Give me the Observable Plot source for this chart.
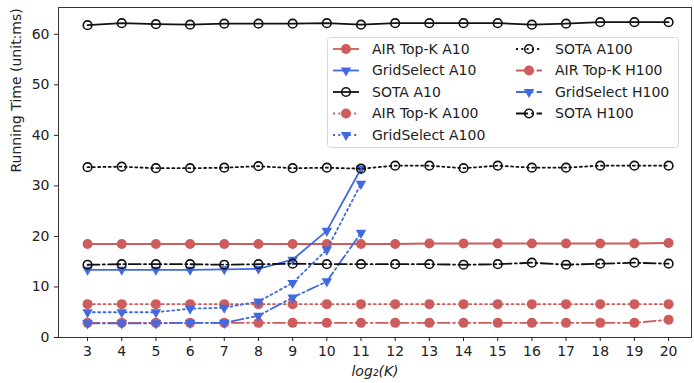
<!DOCTYPE html>
<html><head><meta charset="utf-8">
<script src="https://cdn.jsdelivr.net/npm/d3@7"></script>
<script src="https://cdn.jsdelivr.net/npm/@observablehq/plot@0.6"></script>
<style>body{margin:0;background:#fff} svg{display:block}</style>
</head><body><div id="chart"></div>
<script>
// ---- data ----
const kValues = [3,4,5,6,7,8,9,10,11,12,13,14,15,16,17,18,19,20];
const gridK   = [3,4,5,6,7,8,9,10,11];
const yTicks  = [0,10,20,30,40,50,60];

const airTopKA10  = [18.5,18.5,18.5,18.5,18.5,18.5,18.5,18.5,18.5,18.5,18.6,18.6,18.6,18.6,18.6,18.6,18.6,18.7];
const gridSelA10  = [13.4,13.4,13.4,13.4,13.5,13.6,15.4,21.1,33.4];
const sotaA10     = [61.8,62.2,62.0,61.9,62.1,62.1,62.1,62.2,61.9,62.2,62.2,62.2,62.2,61.9,62.1,62.4,62.4,62.4];
const airTopKA100 = [6.6,6.6,6.6,6.6,6.6,6.6,6.6,6.6,6.6,6.6,6.6,6.6,6.6,6.6,6.6,6.6,6.6,6.6];
const gridSelA100 = [5.0,5.0,5.0,5.7,5.9,7.1,10.8,17.4,30.4];
const sotaA100    = [33.7,33.8,33.5,33.5,33.6,33.9,33.5,33.6,33.4,34.0,34.0,33.5,34.0,33.6,33.6,34.0,34.0,34.0];
const airTopKH100 = [2.9,2.9,2.9,2.9,2.9,2.9,2.9,2.9,2.9,2.9,2.9,2.9,2.9,2.9,2.9,2.9,2.9,3.5];
const gridSelH100 = [2.8,2.8,2.8,2.9,2.9,4.3,7.9,11.1,20.7];
const sotaH100    = [14.4,14.5,14.5,14.5,14.4,14.5,14.6,14.5,14.5,14.5,14.5,14.4,14.5,14.8,14.4,14.6,14.8,14.6];

const seriesNames = ["AIR Top-K A10","GridSelect A10","SOTA A10","AIR Top-K A100","GridSelect A100","SOTA A100","AIR Top-K H100","GridSelect H100","SOTA H100"];

// ---- styles ----
const RED = "#cd5c5c", BLUE = "#4169e1", BLACK = "#111";
const SOLID = null, DOT = "2,3.3", DASHDOT = "12,3.3,2,3.3";
const FS = 14;
const styles = {
  air:  {color: RED,   kind: "fill"},
  grid: {color: BLUE,  kind: "tri"},
  sota: {color: BLACK, kind: "open"}
};
const seriesDefs = [
  [airTopKA10, kValues, "air", SOLID], [gridSelA10, gridK, "grid", SOLID], [sotaA10, kValues, "sota", SOLID],
  [airTopKA100, kValues, "air", DOT],  [gridSelA100, gridK, "grid", DOT],  [sotaA100, kValues, "sota", DOT],
  [airTopKH100, kValues, "air", DASHDOT], [gridSelH100, gridK, "grid", DASHDOT], [sotaH100, kValues, "sota", DASHDOT]
].map(([vals, ks, type, dash], i) => ({
  name: seriesNames[i], rows: vals.map((v, j) => ({k: ks[j], v})), ...styles[type], dash
}));

function dotOpts(s) {
  if (s.kind === "fill") return {x: "k", y: "v", r: 5, fill: s.color, stroke: "none"};
  if (s.kind === "tri") return {x: "k", y: "v", symbol: "triangle", r: 3.9, fill: s.color, stroke: "none", rotate: 180};
  return {x: "k", y: "v", r: 4.3, fill: "none", stroke: s.color, strokeWidth: 1.6};
}

const marks = [];
for (const s of seriesDefs) {
  marks.push(Plot.line(s.rows, {x: "k", y: "v", stroke: s.color, strokeWidth: 1.8, strokeDasharray: s.dash}));
  marks.push(Plot.dot(s.rows, dotOpts(s)));
}

const plot = Plot.plot({
  width: 694, height: 383,
  marginLeft: 58, marginRight: 3, marginTop: 7, marginBottom: 46,
  style: {fontFamily: "DejaVu Sans, sans-serif", fontSize: FS + "px", color: "#222", background: "#fff"},
  x: {domain: [2.15, 20.67]},
  y: {domain: [0, 65.3]},
  marks: [
    ...marks,
    Plot.frame({stroke: "#333", strokeWidth: 1}),
    Plot.axisY({ticks: yTicks, tickSize: 4, tickPadding: 5, label: null, fontSize: FS}),
    Plot.axisX({ticks: kValues, tickSize: 4, tickPadding: 5, label: null, tickFormat: d => String(d), fontSize: FS}),
    Plot.text(["Running Time (unit:ms)"], {frameAnchor: "left", dx: -42, rotate: -90, text: d => d, fontSize: FS, fill: "#222"}),
    Plot.text(["log\u2082(K)"], {frameAnchor: "bottom", dy: 38, text: d => d, fontSize: FS, fontStyle: "italic", fill: "#222"})
  ]
});

// ---- legend (drawn into the same SVG) ----
const svg = d3.select(plot);
const lg = svg.append("g").attr("font-family", "DejaVu Sans, sans-serif").attr("font-size", FS).attr("text-anchor", "start");
lg.append("rect").attr("x", 327.5).attr("y", 37.5).attr("width", 351).attr("height", 110)
  .attr("rx", 3).attr("fill", "white").attr("fill-opacity", 0.85).attr("stroke", "#d8d8d8");
const rowY = [49, 70.5, 92, 113.5, 135];
const cols = [{x0: 333, x1: 359, tx: 372}, {x0: 516, x1: 542, tx: 555}];
seriesDefs.forEach((s, i) => {
  const c = cols[i < 5 ? 0 : 1], y = rowY[i < 5 ? i : i - 5];
  lg.append("line").attr("x1", c.x0).attr("x2", c.x1).attr("y1", y).attr("y2", y)
    .attr("stroke", s.color).attr("stroke-width", 1.8).attr("stroke-dasharray", s.dash);
  const cx = (c.x0 + c.x1) / 2;
  if (s.kind === "fill") lg.append("circle").attr("cx", cx).attr("cy", y).attr("r", 5).attr("fill", s.color);
  else if (s.kind === "open") lg.append("circle").attr("cx", cx).attr("cy", y).attr("r", 4.3).attr("fill", "none").attr("stroke", s.color).attr("stroke-width", 1.6);
  else lg.append("path").attr("d", d3.symbol(d3.symbolTriangle, Math.PI * 3.9 * 3.9)()).attr("transform", `translate(${cx},${y}) rotate(180)`).attr("fill", s.color);
  lg.append("text").attr("x", c.tx).attr("y", y).attr("dy", "0.35em").attr("fill", "#222").attr("text-anchor", "start").text(s.name);
});

document.getElementById("chart").appendChild(plot);
</script>
</body></html>
